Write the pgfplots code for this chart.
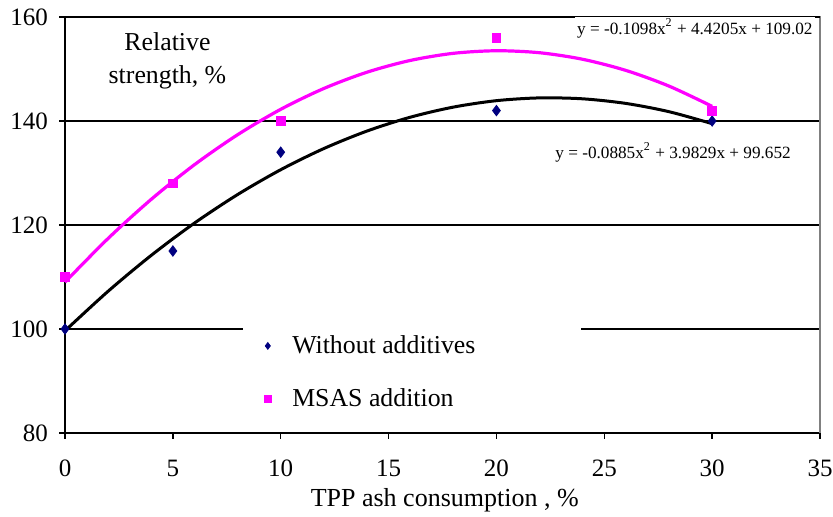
\documentclass[border=0pt]{standalone}
\usepackage{fontspec}
\setmainfont{Liberation Serif}
\usepackage{pgfplots}
\pgfplotsset{compat=1.18}
\definecolor{navyd}{HTML}{000080}
\definecolor{mag}{HTML}{FF00FF}
\begin{document}
\begin{tikzpicture}
\begin{axis}[
  at={(0,0)}, anchor=south west,
  scale only axis, width=377.5pt, height=208pt,
  xmin=0, xmax=35, ymin=80, ymax=160,
  xtick={0,5,...,35}, ytick={80,100,...,160},
  axis lines*=left,
  axis line style={black, line width=0.7pt},
  tick align=outside, tick pos=left,
  major tick length=3pt,
  tick style={black, line width=0.7pt},
  ymajorgrids, grid style={black, line width=0.7pt},
  /pgf/number format/assume math mode=true,
  ticklabel style={font=\fontsize{12.5}{14}\selectfont},
  xticklabel style={yshift=-7pt},
  yticklabel style={xshift=-2pt},
  xlabel={TPP ash consumption , \%},
  xlabel style={at={(axis description cs:0.503,0)}, anchor=center, yshift=-33.5pt, font=\fontsize{13}{15}\selectfont},
  legend style={at={(axis cs:8.75,99.6)}, anchor=north west, draw=none, fill=none,
    font=\fontsize{12.9}{15}\selectfont, row sep=12pt, inner sep=0pt},
  legend cell align=left,
  legend image code/.code={\path[draw=none, fill=none] (-0.1cm,0) -- (0.5cm,0);\draw[#1, mark size=1.7pt] plot coordinates {(0.14cm,0cm)};},
  clip=false,
]
\fill[white] (axis cs:8.25,100.6) rectangle (axis cs:23.9,83.5);
\draw[gray, line width=0.6pt] (rel axis cs:0,1) -- (rel axis cs:1,1) -- (rel axis cs:1,0);
\draw[black, line width=0.7pt] (rel axis cs:0,1) -- (rel axis cs:1,1);
% trend lines
\addplot[black, line width=1.5pt, smooth, forget plot] coordinates {
(0,99.652) (2,107.264) (4,114.168) (6,120.363) (8,125.851) (10,130.631) (12,134.703) (14,138.067) (16,140.722) (18,142.670) (20,143.910) (22,144.442) (24,144.266) (26,143.381) (28,141.789) (30,139.489)};
\addplot[mag, line width=1.6pt, smooth, forget plot] coordinates {
(0,109.02) (2,117.422) (4,124.945) (6,131.590) (8,137.357) (10,142.245) (12,146.255) (14,149.386) (16,151.639) (18,153.014) (20,153.51) (22,153.128) (24,151.867) (26,149.728) (28,146.711) (30,142.815)};
% data
\addplot[only marks, mark=diamond*, mark size=2.6pt, color=navyd, mark options={fill=navyd, draw=navyd}] coordinates {
(0,100) (5,115) (10,134) (20,142) (30,140)};
\addlegendentry{Without additives}
\addplot[only marks, mark=square*, mark size=2.2pt, color=mag, mark options={fill=mag, draw=mag}] coordinates {
(0,110) (5,128) (10,140) (20,156) (30,142)};
\addlegendentry{MSAS addition}
\node[fill=white, inner sep=1pt, font=\fontsize{8.6}{11}\selectfont] at (axis cs:29.2,157.8) {y = -0.1098x\textsuperscript{2} + 4.4205x + 109.02};
\node[fill=white, inner sep=1pt, font=\fontsize{8.6}{11}\selectfont] at (axis cs:28.19,134.0) {y = -0.0885x\textsuperscript{2} + 3.9829x + 99.652};
\node[align=center, font=\fontsize{12.9}{16.5}\selectfont] at (axis cs:4.75,151.5) {Relative\\strength, \%};
\end{axis}
\pgfresetboundingbox
\path (-32.5pt,-42pt) rectangle (384pt,216.5pt);
\end{tikzpicture}
\end{document}
